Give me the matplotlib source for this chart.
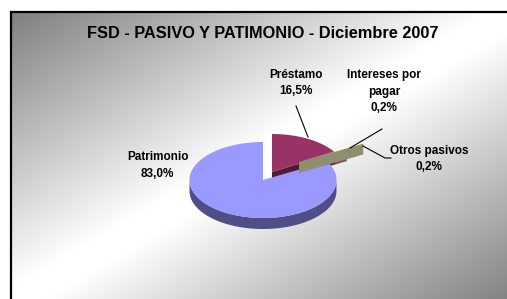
import numpy as np
import matplotlib.pyplot as plt
from matplotlib.patches import Polygon

# data
labels = ['Préstamo', 'Intereses por\npagar', 'Otros pasivos', 'Patrimonio']
values = [16.5, 0.2, 0.2, 83.0]
pct_text = ['16,5%', '0,2%', '0,2%', '83,0%']

# style
tops = ['#993366', '#D98CB3', '#FFFFCC', '#9999FF']
sides = ['#531A38', '#8A4A6A', '#8F8F6E', '#4F4F88']
offsets = [(9, -8), (20, -11), (36, -18), (0, 0)]
draw_order = [1, 0, 3, 2]
cx, cy, rx, ry, depth = 263, 180, 73.5, 38, 11

W, H = 507, 299
fig = plt.figure(figsize=(5.07, 2.99), dpi=100)
ax = fig.add_axes([0, 0, 1, 1])
ax.set_xlim(0, W)
ax.set_ylim(H, 0)
ax.axis('off')

# gradient background inside the chart frame
fx0, fy0 = 10.5, 11.5
gx = np.linspace(fx0, W, 300)
gy = np.linspace(fy0, H, 200)
X, Y = np.meshgrid(gx, gy)
t = ((X - fx0) / 505 + (Y - fy0) / 292) / 2
u = np.abs(2 * t - 1)
g = np.clip(262 - 135 * u, 0, 255) / 255
ax.imshow(np.dstack([g, g, g]), extent=(fx0, W, H, fy0), aspect='auto',
          interpolation='bilinear', zorder=0)
ax.plot([fx0, fx0, W], [H, fy0, fy0], color='black', lw=1.6, zorder=1,
        solid_joinstyle='miter')

ax.text(263, 33, 'FSD - PASIVO Y PATIMONIO - Diciembre 2007', ha='center',
        va='center', fontsize=11.8, fontweight='bold', family='Liberation Sans')

# 3D pie built from the values
frac = np.array(values) / sum(values)
edges = 90 - 360 * np.concatenate([[0], np.cumsum(frac)])


def rim(c, a):
    a = np.radians(a)
    return np.column_stack([c[0] + rx * np.cos(a), c[1] - ry * np.sin(a)])


z = 2
for i in draw_order:
    a0, a1 = edges[i], edges[i + 1]
    c = (cx + offsets[i][0], cy + offsets[i][1])
    # radial cut faces
    for a, vis in ((a0, np.cos(np.radians(a0)) < 0), (a1, np.cos(np.radians(a1)) > 0)):
        if vis:
            p = rim(c, [a])[0]
            quad = [c, p, (p[0], p[1] + depth), (c[0], c[1] + depth)]
            ax.add_patch(Polygon(quad, closed=True, fc=sides[i], ec='none', zorder=z))
    # outer rim side (front half only)
    angs = np.linspace(a0, a1, 200)
    front = angs[np.sin(np.radians(angs)) < 0]
    if len(front) > 1:
        top = rim(c, front)
        bot = top + [0, depth]
        ax.add_patch(Polygon(np.vstack([top, bot[::-1]]), closed=True,
                             fc=sides[i], ec='none', zorder=z))
    # top face
    arc = rim(c, angs)
    ax.add_patch(Polygon(np.vstack([[c], arc]), closed=True, fc=tops[i],
                         ec='none', zorder=z + 0.5))
    z += 1

# labels and leader lines
lab_font = dict(ha='center', va='center', fontsize=8.5, fontweight='bold',
                family=['Liberation Sans Narrow', 'Liberation Sans'], linespacing=1.45,
                zorder=10)
ax.text(296, 83, labels[0] + '\n' + pct_text[0], **lab_font)
ax.text(384, 91.5, labels[1] + '\n' + pct_text[1], **lab_font)
ax.text(429, 159, labels[2] + '\n' + pct_text[2], **lab_font)
ax.text(157.5, 165.5, labels[3] + '\n' + pct_text[3], **lab_font)

lk = dict(color='black', lw=0.8, zorder=10)
ax.plot([296, 308], [106, 137], **lk)
ax.plot([382, 350], [129, 148], **lk)
ax.plot([363, 385, 391], [146, 158, 158], **lk)

fig.savefig('out.png', dpi=100)
